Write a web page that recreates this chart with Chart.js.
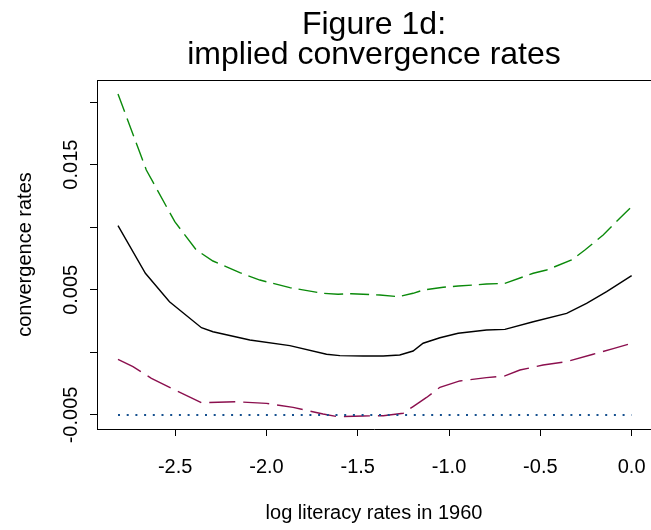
<!DOCTYPE html>
<html><head><meta charset="utf-8">
<script src="https://cdn.jsdelivr.net/npm/chart.js@4/dist/chart.umd.min.js"></script>
<style>html,body{margin:0;padding:0;background:#fff;overflow:hidden}#wrap{width:651px;height:530px;position:relative}</style>
</head><body><div id="wrap"><canvas id="c" width="651" height="530"></canvas></div>
<script>
// ---- text ----
const titleLines = ["Figure 1d:", "implied convergence rates"];
const xTitle = "log literacy rates in 1960";
const yTitle = "convergence rates";
// ---- ticks ----
const xTickValues = [-2.5, -2.0, -1.5, -1.0, -0.5, 0.0];
const xTickLabels = ["-2.5", "-2.0", "-1.5", "-1.0", "-0.5", "0.0"];
const yTickValues = [-0.005, 0.000, 0.005, 0.010, 0.015, 0.020];
const yLabelValues = [-0.005, 0.005, 0.015];
const yLabelTexts = ["-0.005", "0.005", "0.015"];
// ---- axis ranges ----
const xRange = [-2.928, 0.106];
const yRange = [-0.00612, 0.02176];
// ---- series: estimate (solid black) ----
const xEst = [-2.813,-2.663,-2.531,-2.356,-2.293,-2.091,-1.872,-1.671,-1.598,-1.470,-1.361,-1.270,-1.197,-1.142,-1.050,-0.950,-0.795,-0.694,-0.539,-0.356,-0.247,-0.137,0.000];
const yEst = [0.01012,0.00632,0.00405,0.00197,0.00165,0.00099,0.00054,-0.00015,-0.00026,-0.00029,-0.00029,-0.00021,0.00011,0.00073,0.00117,0.00153,0.00179,0.00184,0.00245,0.00312,0.00392,0.00485,0.00613];
// ---- series: upper band (green dashed) ----
const xUpper = [-2.813,-2.658,-2.502,-2.384,-2.293,-2.146,-2.036,-1.872,-1.690,-1.608,-1.535,-1.379,-1.279,-1.197,-1.142,-1.032,-0.950,-0.795,-0.694,-0.539,-0.466,-0.329,-0.256,-0.156,-0.065,0.000];
const yUpper = [0.02064,0.01457,0.01044,0.00818,0.00730,0.00637,0.00578,0.00517,0.00472,0.00464,0.00469,0.00458,0.00445,0.00472,0.00498,0.00520,0.00530,0.00546,0.00552,0.00632,0.00658,0.00738,0.00818,0.00938,0.01071,0.01164];
// ---- series: lower band (purple dashed) ----
const xLower = [-2.813,-2.731,-2.630,-2.502,-2.356,-2.165,-2.000,-1.854,-1.690,-1.608,-1.470,-1.361,-1.251,-1.197,-1.123,-1.050,-0.941,-0.795,-0.694,-0.612,-0.485,-0.356,-0.211,-0.101,0.000];
const yLower = [-0.00055,-0.00114,-0.00207,-0.00300,-0.00402,-0.00394,-0.00407,-0.00439,-0.00492,-0.00514,-0.00508,-0.00506,-0.00486,-0.00433,-0.00360,-0.00279,-0.00228,-0.00202,-0.00188,-0.00141,-0.00101,-0.00074,-0.00015,0.00030,0.00073];
// ---- series: reference level (blue dotted) ----
const xRef = [-2.813, 0.000];
const yRef = [-0.005, -0.005];

const pts = (xs, ys) => xs.map((x, i) => ({x, y: ys[i]}));
const FONT = '"Liberation Sans", Arial, Helvetica, sans-serif';

const decor = {
  id: 'decor',
  afterDraw(chart) {
    const {ctx, chartArea: a, scales} = chart;
    ctx.save();
    // top border of box
    ctx.strokeStyle = '#000'; ctx.lineWidth = 1;
    ctx.beginPath(); ctx.moveTo(a.left, a.top + 0.5); ctx.lineTo(a.right, a.top + 0.5); ctx.stroke();
    // title
    ctx.fillStyle = '#000';
    ctx.textAlign = 'center'; ctx.textBaseline = 'alphabetic';
    ctx.font = '32px ' + FONT;
    const cx = (a.left + a.right) / 2;
    ctx.fillText(titleLines[0], cx, 34);
    ctx.fillText(titleLines[1], cx, 64);
    // rotated y tick labels
    ctx.font = '20px ' + FONT;
    yLabelValues.forEach((v, i) => {
      const py = scales.y.getPixelForValue(v);
      ctx.save();
      ctx.translate(77, py);
      ctx.rotate(-Math.PI / 2);
      ctx.textAlign = 'center'; ctx.textBaseline = 'alphabetic';
      ctx.fillText(yLabelTexts[i], 0, 0);
      ctx.restore();
    });
    ctx.restore();
  }
};

new Chart(document.getElementById('c'), {
  type: 'scatter',
  data: {
    datasets: [
      {data: pts(xRef, yRef), showLine: true, borderColor: '#15508f', borderWidth: 2, borderDash: [2, 6.7], pointRadius: 0, tension: 0},
      {data: pts(xLower, yLower), showLine: true, borderColor: '#8b0f4e', borderWidth: 1.4, borderDash: [26, 8], pointRadius: 0, tension: 0},
      {data: pts(xUpper, yUpper), showLine: true, borderColor: '#0b8a0b', borderWidth: 1.4, borderDash: [19, 7], pointRadius: 0, tension: 0},
      {data: pts(xEst, yEst), showLine: true, borderColor: '#000', borderWidth: 1.4, pointRadius: 0, tension: 0}
    ]
  },
  options: {
    responsive: false, animation: false, devicePixelRatio: 1,
    layout: {padding: {top: 80, right: 0, left: 0, bottom: 0}},
    plugins: {legend: {display: false}, tooltip: {enabled: false}, title: {display: false}},
    scales: {
      x: {
        type: 'linear', min: xRange[0], max: xRange[1],
        afterBuildTicks: s => { s.ticks = xTickValues.map(v => ({value: v})); },
        afterFit: s => { s.height = 101; s.paddingLeft = 0; s.paddingRight = 0; },
        grid: {display: true, drawOnChartArea: false, drawTicks: true, tickLength: 7, color: '#000', lineWidth: 1},
        border: {display: true, color: '#000', width: 1},
        ticks: {autoSkip: false, maxRotation: 0, minRotation: 0, padding: 19, color: '#000', font: {family: FONT, size: 20},
          callback: (v) => { const i = xTickValues.findIndex(t => Math.abs(t - v) < 1e-9); return i >= 0 ? xTickLabels[i] : ''; }},
        title: {display: true, text: xTitle, color: '#000', font: {family: FONT, size: 20}, padding: {top: 0, bottom: 5}}
      },
      y: {
        type: 'linear', min: yRange[0], max: yRange[1],
        afterBuildTicks: s => { s.ticks = yTickValues.map(v => ({value: v})); },
        afterFit: s => { s.width = 97; s.paddingTop = 0; s.paddingBottom = 0; },
        grid: {display: true, drawOnChartArea: false, drawTicks: true, tickLength: 7, color: '#000', lineWidth: 1},
        border: {display: true, color: '#000', width: 1},
        ticks: {display: false},
        title: {display: true, text: yTitle, color: '#000', font: {family: FONT, size: 20}, padding: {top: 13, bottom: 0}}
      }
    }
  },
  plugins: [decor]
});
</script>
</body></html>
